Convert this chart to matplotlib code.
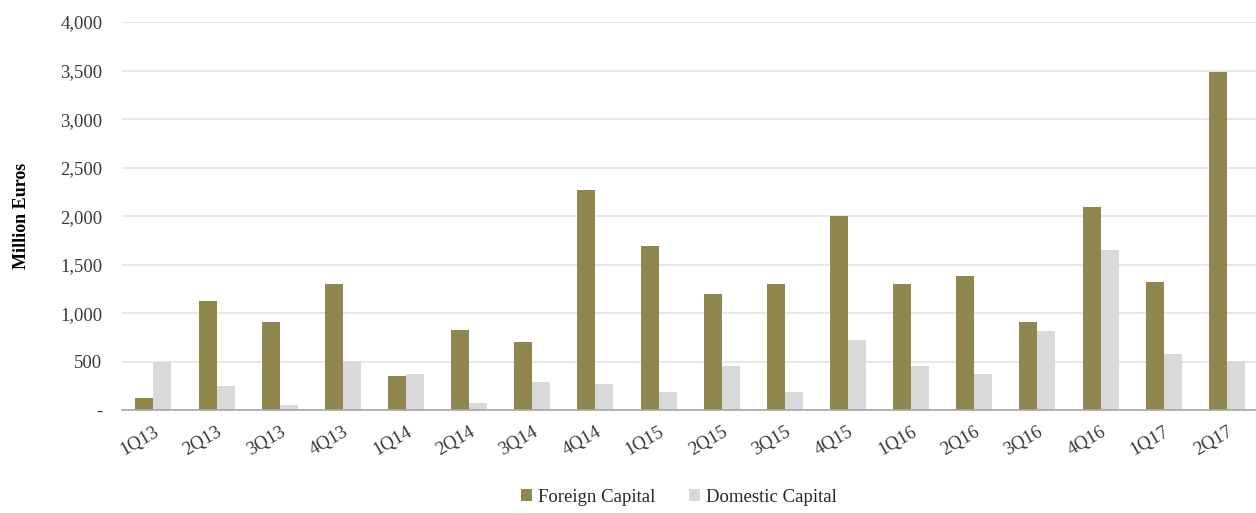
import matplotlib.pyplot as plt
import numpy as np
from matplotlib.ticker import FuncFormatter

quarters = ["1Q13", "2Q13", "3Q13", "4Q13", "1Q14", "2Q14", "3Q14", "4Q14", "1Q15",
            "2Q15", "3Q15", "4Q15", "1Q16", "2Q16", "3Q16", "4Q16", "1Q17", "2Q17"]
foreign = [130, 1130, 910, 1300, 350, 830, 700, 2270, 1690,
           1200, 1300, 2000, 1300, 1380, 910, 2100, 1320, 3490]
domestic = [500, 250, 60, 510, 370, 80, 290, 270, 190,
            460, 190, 720, 460, 370, 820, 1650, 580, 510]

plt.rcParams['font.family'] = ['Liberation Serif', 'DejaVu Serif']

fig = plt.figure(figsize=(12.56, 5.13), dpi=100)
ax = fig.add_axes([0.097, 0.2, 0.905, 0.757])

x = np.arange(len(quarters))
w = 0.285
ax.bar(x - w / 2, foreign, w, color="#8f8650", label="Foreign Capital")
ax.bar(x + w / 2, domestic, w, color="#d9d9d9", label="Domestic Capital")

ax.set_xlim(-0.5, len(quarters) - 0.5)
ax.set_ylim(0, 4000)
ax.set_yticks(np.arange(0, 4001, 500))
ax.yaxis.set_major_formatter(FuncFormatter(lambda v, p: "-" if v == 0 else f"{int(v):,}"))
ax.grid(axis="y", color="#e3e3e3", linewidth=1.2)
ax.set_axisbelow(True)
for s in ["top", "right", "left"]:
    ax.spines[s].set_visible(False)
ax.spines["bottom"].set_color("#a6a6a6")
ax.spines["bottom"].set_linewidth(1.2)
ax.tick_params(axis="both", length=0, labelsize=13.5, colors="#3a3a3a")
ax.tick_params(axis="y", pad=14)

ax.set_xticks(x)
ax.set_xticklabels(quarters, rotation=30, ha="right", rotation_mode="anchor")
ax.tick_params(axis="x", pad=9)

ax.set_ylabel("Million Euros", fontsize=13, fontweight="bold", labelpad=22)

ax.legend(loc="center", bbox_to_anchor=(0.49, -0.224), ncol=2, frameon=False,
          fontsize=13.5, handlelength=0.6, handleheight=0.6, handletextpad=0.3,
          columnspacing=1.8, labelcolor="#262626")

plt.savefig("out.png", dpi=100)
